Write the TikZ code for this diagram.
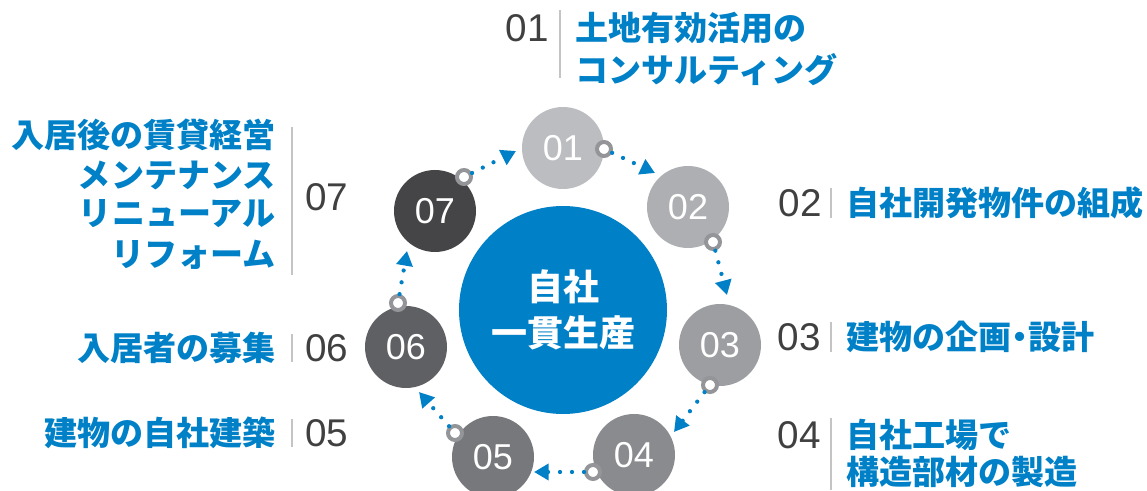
\documentclass[tikz,border=0pt]{standalone}
\usepackage{fontspec}
\setmainfont{Liberation Sans}
\newfontfamily\jp{Noto Sans CJK JP}
\usetikzlibrary{arrows.meta}

\definecolor{corebl}{HTML}{0080C6}
\definecolor{numgr}{HTML}{404040}
\definecolor{ringgr}{HTML}{939598}
\definecolor{sepgr}{HTML}{C4C4C4}
\definecolor{stg1}{HTML}{BCBDC0}
\definecolor{stg2}{HTML}{AEAFB2}
\definecolor{stg3}{HTML}{9D9EA1}
\definecolor{stg4}{HTML}{8A8B8E}
\definecolor{stg5}{HTML}{77787B}
\definecolor{stg6}{HTML}{5F6063}
\definecolor{stg7}{HTML}{454547}

\tikzset{
  stage/.style={circle, fill=#1, minimum size=61.5pt, inner sep=0pt,
    text=white, font=\fontsize{27}{27}\selectfont},
  ring/.style={circle, draw=ringgr, line width=3pt, fill=white,
    minimum size=10.5pt, inner sep=0pt},
  flow/.style={draw=corebl, line width=3.2pt, line cap=round,
    dash pattern=on 0pt off 9pt, -{Triangle[length=11pt,width=12pt]}},
  num/.style={text=numgr, inner sep=0pt, font=\fontsize{29}{29}\selectfont},
  lab/.style={text=corebl, inner sep=0pt, font=\jp\bfseries\fontsize{24.8}{24.8}\selectfont},
  sep/.style={draw=sepgr, line width=1pt}
}

\begin{document}
\begin{tikzpicture}[x=0.75pt,y=0.75pt,yscale=-1,xscale=1]
\useasboundingbox (0,0) rectangle (1147,491);

% centre
\node[circle, fill=corebl, minimum size=156pt, inner sep=0pt, text=white,
  align=center, font=\jp\bfseries\fontsize{27}{35}\selectfont] (core) at (563,310) {自社\\一貫生産};

% stages
\node[stage=stg1] (s1) at (563,148) {01};
\node[stage=stg2] (s2) at (688,207) {02};
\node[stage=stg3] (s3) at (720,345) {03};
\node[stage=stg4] (s4) at (634,455) {04};
\node[stage=stg5] (s5) at (493,457) {05};
\node[stage=stg6] (s6) at (406,347) {06};
\node[stage=stg7] (s7) at (435,211) {07};

% rings
\node[ring] (r1) at (604,149) {};
\node[ring] (r2) at (713,242) {};
\node[ring] (r3) at (710,385) {};
\node[ring] (r4) at (593,472) {};
\node[ring] (r5) at (455,433) {};
\node[ring] (r6) at (398,303) {};
\node[ring] (r7) at (464,177) {};

% arrow tips
\coordinate (t1) at (516,151);
\coordinate (t2) at (655,173);
\coordinate (t3) at (727,295);
\coordinate (t4) at (674,432);
\coordinate (t5) at (534,472);
\coordinate (t6) at (419,392);
\coordinate (t7) at (407,251);

\draw[flow] (r1) -- (t2);
\draw[flow] (r2) -- (t3);
\draw[flow] (r3) -- (t4);
\draw[flow] (r4) -- (t5);
\draw[flow] (r5) -- (t6);
\draw[flow] (r6) -- (t7);
\draw[flow] (r7) -- (t1);

% right labels
\node[num, anchor=east] (n1) at (549,28) {01};
\draw[sep] (560,10) -- (560,78);
\node[lab, anchor=west] (l1a) at (575,28) {土地有効活用の};
\node[lab, anchor=west] (l1b) at (575,70) {コンサルティング};

\node[num, anchor=east] (n2) at (822,203) {02};
\draw[sep] (831,188) -- (831,218);
\node[lab, anchor=west] (l2) at (846,203) {自社開発物件の組成};

\node[num, anchor=east] (n3) at (821,337) {03};
\draw[sep] (831,322) -- (831,352);
\node[lab, anchor=west] (l3) at (846,337) {建物の企画\kern-0.25em・\kern-0.25em設計};

\node[num, anchor=east] (n4) at (821,435) {04};
\draw[sep] (831,418) -- (831,490);
\node[lab, anchor=west] (l4a) at (846,435) {自社工場で};
\node[lab, anchor=west] (l4b) at (846,472) {構造部材の製造};

% left labels
\node[num, anchor=west] (n7) at (305,197) {07};
\draw[sep] (292,127) -- (292,275);
\node[lab, anchor=east] (l7a) at (276,135) {入居後の賃貸経営};
\node[lab, anchor=east] (l7b) at (276,175) {メンテナンス};
\node[lab, anchor=east] (l7c) at (276,214) {リニューアル};
\node[lab, anchor=east] (l7d) at (276,255) {リフォーム};

\node[num, anchor=west] (n6) at (305,348) {06};
\draw[sep] (292,334) -- (292,362);
\node[lab, anchor=east] (l6) at (276,348) {入居者の募集};

\node[num, anchor=west] (n5) at (305,433) {05};
\draw[sep] (292,419) -- (292,447);
\node[lab, anchor=east] (l5) at (276,433) {建物の自社建築};

\end{tikzpicture}
\end{document}
